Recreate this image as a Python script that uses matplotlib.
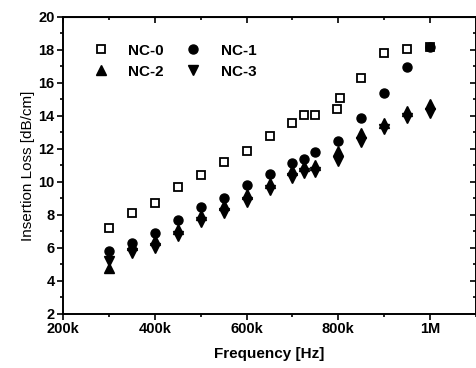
"""Insertion loss vs frequency for NC samples."""

import matplotlib
matplotlib.use("Agg")
import matplotlib.pyplot as plt
from matplotlib.ticker import MultipleLocator, FuncFormatter


# frequency in Hz
freq_nc0 = [300e3, 350e3, 400e3, 450e3, 500e3, 550e3, 600e3, 650e3, 700e3, 725e3,
            750e3, 798e3, 803e3, 850e3, 900e3, 950e3, 1000e3]
loss_nc0 = [7.2, 8.1, 8.7, 9.7, 10.4, 11.2, 11.9, 12.8, 13.6, 14.05,
            14.05, 14.4, 15.1, 16.3, 17.8, 18.05, 18.2]

freq = [300e3, 350e3, 400e3, 450e3, 500e3, 550e3, 600e3, 650e3, 700e3, 725e3,
        750e3, 800e3, 850e3, 900e3, 950e3, 1000e3]
loss_nc1 = [5.8, 6.3, 6.9, 7.7, 8.5, 9.0, 9.8, 10.45, 11.15, 11.4,
            11.8, 12.5, 13.9, 15.4, 16.95, 18.2]
loss_nc2 = [4.8, 6.15, 6.45, 7.15, 8.0, 8.6, 9.25, 9.95, 10.7, 10.95,
            11.05, 11.85, 12.95, 13.6, 14.3, 14.7]
loss_nc3 = [5.2, 5.7, 6.0, 6.75, 7.55, 8.1, 8.8, 9.5, 10.25, 10.55,
            10.6, 11.25, 12.4, 13.2, 13.9, 14.2]

x_ticks = [200e3, 400e3, 600e3, 800e3, 1000e3]
x_labels = ["200k", "400k", "600k", "800k", "1M"]


def freq_label(value, _pos):
    if value in x_ticks:
        return x_labels[x_ticks.index(value)]
    return ""


plt.rcParams["font.family"] = ["Liberation Sans", "DejaVu Sans"]

fig = plt.figure(figsize=(4.77, 3.68), dpi=100)
ax = fig.add_axes([0.132, 0.147, 0.866, 0.807])

h0, = ax.plot(freq_nc0, loss_nc0, linestyle="none", marker="s", markersize=6,
              markerfacecolor="white", markeredgecolor="black", markeredgewidth=1.3,
              label="NC-0")
h2, = ax.plot(freq, loss_nc2, linestyle="none", marker="^", markersize=7,
              color="black", label="NC-2")
h3, = ax.plot(freq, loss_nc3, linestyle="none", marker="v", markersize=7,
              color="black", label="NC-3")
h1, = ax.plot(freq, loss_nc1, linestyle="none", marker="o", markersize=6.5,
              color="black", label="NC-1")

ax.set_xlim(200e3, 1100e3)
ax.set_ylim(2, 20)

ax.xaxis.set_major_locator(MultipleLocator(200e3))
ax.xaxis.set_minor_locator(MultipleLocator(100e3))
ax.xaxis.set_major_formatter(FuncFormatter(freq_label))
ax.yaxis.set_major_locator(MultipleLocator(2))
ax.yaxis.set_minor_locator(MultipleLocator(1))

ax.tick_params(which="both", direction="out", top=False, right=False,
               width=1.2, labelsize=10.5, pad=2)
ax.tick_params(which="major", length=4)
ax.tick_params(which="minor", length=2.5)
for label in ax.get_xticklabels() + ax.get_yticklabels():
    label.set_fontweight("bold")

# mirrored inward ticks on top and right
top = ax.secondary_xaxis("top")
top.xaxis.set_major_locator(MultipleLocator(200e3))
top.xaxis.set_minor_locator(MultipleLocator(100e3))
top.tick_params(which="both", direction="in", labeltop=False, width=1.2)
top.tick_params(which="major", length=4)
top.tick_params(which="minor", length=2.5)
right = ax.secondary_yaxis("right")
right.yaxis.set_major_locator(MultipleLocator(2))
right.yaxis.set_minor_locator(MultipleLocator(1))
right.tick_params(which="both", direction="in", labelright=False, width=1.2)
right.tick_params(which="major", length=4)
right.tick_params(which="minor", length=2.5)

for spine in ax.spines.values():
    spine.set_linewidth(1.4)

ax.set_xlabel("Frequency [Hz]", fontsize=11, fontweight="bold", labelpad=8)
ax.set_ylabel("Insertion Loss [dB/cm]", fontsize=11, labelpad=2)

ax.legend(handles=[h0, h2, h1, h3], ncol=2, loc="upper left", frameon=False,
          prop={"size": 11, "weight": "bold"}, handletextpad=0.8,
          columnspacing=0.9, labelspacing=0.45, borderaxespad=0.0,
          bbox_to_anchor=(0.04, 0.93))

fig.savefig("out.png", dpi=100)
